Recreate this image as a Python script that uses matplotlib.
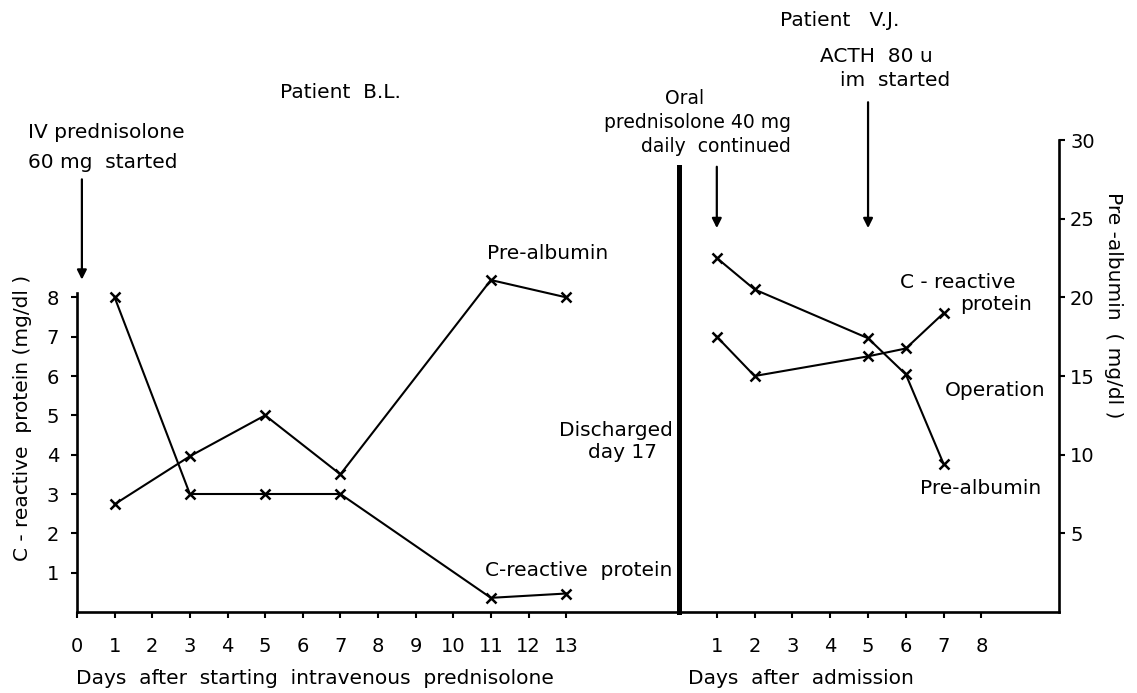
import matplotlib
matplotlib.use("Agg")
import matplotlib.pyplot as plt

# ---- data ----
bl_days = [1, 3, 5, 7, 11, 13]
bl_crp = [8.0, 3.0, 3.0, 3.0, 0.36, 0.47]          # mg/dl (left axis)
bl_prealb = [6.85, 9.9, 12.5, 8.75, 21.1, 20.0]     # mg/dl (right axis scale)

vj_days = [1, 2, 5, 6, 7]
vj_prealb = [22.5, 20.5, 17.4, 15.1, 9.4]           # mg/dl (right axis)
vj_crp = [7.0, 6.0, 6.5, 6.7, 7.6]                  # mg/dl (left axis scale)

left_xticks = list(range(0, 14))
right_xticks = list(range(1, 9))
crp_yticks = list(range(1, 9))
prealb_yticks = [5, 10, 15, 20, 25, 30]

W, H = 1137, 693
plt.rcParams['font.family'] = ['DejaVu Sans']
fig = plt.figure(figsize=(W / 100, H / 100), dpi=100)
fig.patch.set_facecolor('white')

def fx(x):
    return x / W

def fy(y):
    return 1 - y / H

bottom = fy(612)
height = fy(140) - bottom
axL = fig.add_axes([fx(77), bottom, fx(679) - fx(77), height])
axR = fig.add_axes([fx(679), bottom, fx(1059) - fx(679), height])
axL2 = axL.twinx()
axR2 = axR.twinx()

lw_sp = 1.9
fs = 14.5
tfs = 14
line_kw = dict(color='black', lw=1.5, marker='x', markersize=7, mew=1.8)

# left panel (CRP axis)
axL.set_xlim(0, 16)
axL.set_ylim(0, 12)
for s in ['top', 'right']:
    axL.spines[s].set_visible(False)
axL.spines['left'].set_bounds(0, 8.1)
axL.spines['bottom'].set_bounds(0, 16)
for s in ['left', 'bottom']:
    axL.spines[s].set_linewidth(lw_sp)
axL.set_xticks(left_xticks)
axL.set_xticklabels([str(t) for t in left_xticks])
axL.set_yticks(crp_yticks)
axL.set_yticklabels([str(t) for t in crp_yticks])
axL.tick_params(axis='both', direction='out', length=4, width=1.5, labelsize=tfs)
axL.tick_params(axis='x', pad=14)
axL.tick_params(axis='y', pad=9, left=True, labelleft=True, right=False, labelright=False)
axL.plot(bl_days, bl_crp, **line_kw)
axL2.set_ylim(0, 30)
axL2.axis('off')
axL2.plot(bl_days, bl_prealb, **line_kw)

# right panel (pre-albumin axis)
axR.set_xlim(0, 10.05)
axR.set_ylim(0, 30)
axR.spines['top'].set_visible(False)
axR.spines['left'].set_bounds(0, 28.3)
axR.spines['left'].set_linewidth(3.6)
axR.spines['right'].set_linewidth(lw_sp)
axR.spines['bottom'].set_linewidth(lw_sp)
axR.set_xticks(right_xticks)
axR.set_xticklabels([str(t) for t in right_xticks])
axR.set_yticks(prealb_yticks)
axR.set_yticklabels([str(t) for t in prealb_yticks])
axR.tick_params(axis='both', direction='out', length=4, width=1.5, labelsize=tfs)
axR.tick_params(axis='x', pad=14)
axR.tick_params(axis='y', pad=4, left=False, labelleft=False, right=True, labelright=True)
axR.plot(vj_days, vj_prealb, **line_kw)
axR2.set_ylim(0, 12)
axR2.axis('off')
axR2.plot(vj_days, vj_crp, **line_kw)

# arrows
arr = dict(arrowstyle='-|>', color='black', lw=1.6, mutation_scale=14, shrinkA=0, shrinkB=0)
axL.annotate('', xy=(0.13, 8.45), xytext=(0.13, 11.0), arrowprops=arr, annotation_clip=False)
axR.annotate('', xy=(1, 24.4), xytext=(1, 28.3), arrowprops=arr, annotation_clip=False)
axR.annotate('', xy=(5, 24.4), xytext=(5, 32.4), arrowprops=arr, annotation_clip=False)

# text
def t(x, y, s, ha='left', size=fs, **kw):
    fig.text(fx(x), fy(y), s, ha=ha, va='center', fontsize=size, **kw)

t(280, 92, 'Patient  B.L.')
t(28, 133, 'IV prednisolone')
t(28, 162, '60 mg  started')
t(487, 254, 'Pre-albumin')
t(672, 570, 'C-reactive  protein', ha='right')
t(673, 430, 'Discharged', ha='right')
t(588, 453, 'day 17')
t(685, 98, 'Oral', ha='center', size=13.5)
t(791, 123, 'prednisolone 40 mg', ha='right', size=13.5)
t(791, 147, 'daily  continued', ha='right', size=13.5)
t(780, 20, 'Patient   V.J.')
t(820, 57, 'ACTH  80 u')
t(840, 80, 'im  started')
t(1015, 283, 'C - reactive', ha='right')
t(1032, 305, 'protein', ha='right')
t(1045, 391, 'Operation', ha='right')
t(1041, 488, 'Pre-albumin', ha='right')
t(76, 678, 'Days  after  starting  intravenous  prednisolone')
t(688, 678, 'Days  after  admission')
fig.text(fx(23), fy(418), 'C - reactive  protein (mg/dl )', rotation=90,
         ha='center', va='center', fontsize=fs)
fig.text(fx(1113), fy(305), 'Pre -albumin  ( mg/dl )', rotation=-90,
         ha='center', va='center', fontsize=fs)

fig.savefig('out.png', dpi=100, facecolor='white')
